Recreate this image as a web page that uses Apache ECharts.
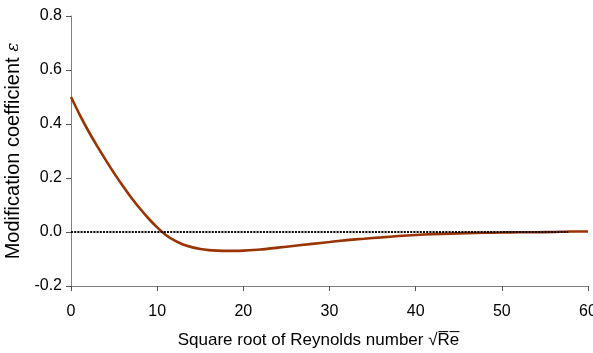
<!DOCTYPE html>
<html>
<head>
<meta charset="utf-8">
<script src="https://cdn.jsdelivr.net/npm/echarts@6/dist/echarts.min.js"></script>
<style>
  html, body { margin: 0; padding: 0; background: #fff; }
  #chart { width: 593px; height: 353px; }
</style>
</head>
<body>
<div id="chart"></div>
<script>
// sqrt(Re) values and modification coefficient
const sqrtRe = [0, 1, 2, 3, 4, 5, 6, 7, 8, 9, 10, 11, 12, 13, 14, 15, 16, 17, 18, 19, 20,
  22, 24, 26, 28, 30, 32, 34, 36, 38, 40, 42, 44, 46, 48, 50, 52, 54, 56, 58, 60];
const epsilon = [0.50, 0.435, 0.375, 0.32, 0.268, 0.218, 0.171, 0.127, 0.087, 0.050, 0.017,
  -0.011, -0.031, -0.046, -0.056, -0.063, -0.067, -0.069, -0.070, -0.070, -0.069,
  -0.065, -0.058, -0.051, -0.044, -0.037, -0.030, -0.025, -0.020, -0.015, -0.011,
  -0.008, -0.006, -0.004, -0.003, -0.002, -0.001, -0.001, 0.000, 0.002, 0.002];
// dotted reference line at zero
const zeroX = [0, 57.7];
const zeroY = [0, 0];

const xTicks = [0, 10, 20, 30, 40, 50, 60];
const yTicks = [-0.2, 0.0, 0.2, 0.4, 0.6, 0.8];

const font = "Liberation Sans";
let myChart = echarts.init(document.getElementById("chart"));

const options = {
  animation: false,
  grid: { left: 71, right: 5, top: 16, bottom: 67, outerBoundsMode: "none", containLabel: false },
  xAxis: {
    type: "value",
    min: xTicks[0],
    max: xTicks[xTicks.length - 1],
    interval: 10,
    splitLine: { show: false },
    axisLine: { onZero: false, lineStyle: { color: "#808080", width: 1 } },
    axisTick: { length: 5, lineStyle: { color: "#555" } },
    axisLabel: { color: "#000", fontFamily: font, fontSize: 16, margin: 18 },
    name: "Square root of Reynolds number \u221AR\u0305e\u0305",
    nameLocation: "middle",
    nameGap: 46,
    nameTextStyle: { color: "#000", fontFamily: font, fontSize: 17, padding: [0, 22, 0, 0] }
  },
  yAxis: {
    type: "value",
    min: yTicks[0],
    max: yTicks[yTicks.length - 1],
    interval: 0.2,
    splitLine: { show: false },
    axisLine: { show: true, onZero: false, lineStyle: { color: "#808080", width: 1 } },
    axisTick: { show: true, length: 5, lineStyle: { color: "#555" } },
    axisLabel: {
      color: "#000",
      fontFamily: font,
      fontSize: 16,
      margin: 9,
      formatter: (v) => v.toFixed(1)
    },
    name: "Modification coefficient {e|\u03B5}",
    nameLocation: "middle",
    nameGap: 43,
    nameTextStyle: {
      color: "#000",
      fontFamily: font,
      fontSize: 20,
      rich: {
        e: { fontFamily: "DejaVu Serif", fontStyle: "italic", fontSize: 17, color: "#000" }
      }
    }
  },
  series: [
    {
      type: "line",
      data: zeroX.map((x, i) => [x, zeroY[i]]),
      showSymbol: false,
      lineStyle: { color: "#000", width: 2, type: [2, 1.2] },
      z: 3
    },
    {
      type: "line",
      data: sqrtRe.map((x, i) => [x, epsilon[i]]),
      smooth: 0.2,
      showSymbol: false,
      lineStyle: { color: "#993300", width: 2.6 },
      z: 2
    }
  ]
};
myChart.setOption(options);
</script>
</body>
</html>
